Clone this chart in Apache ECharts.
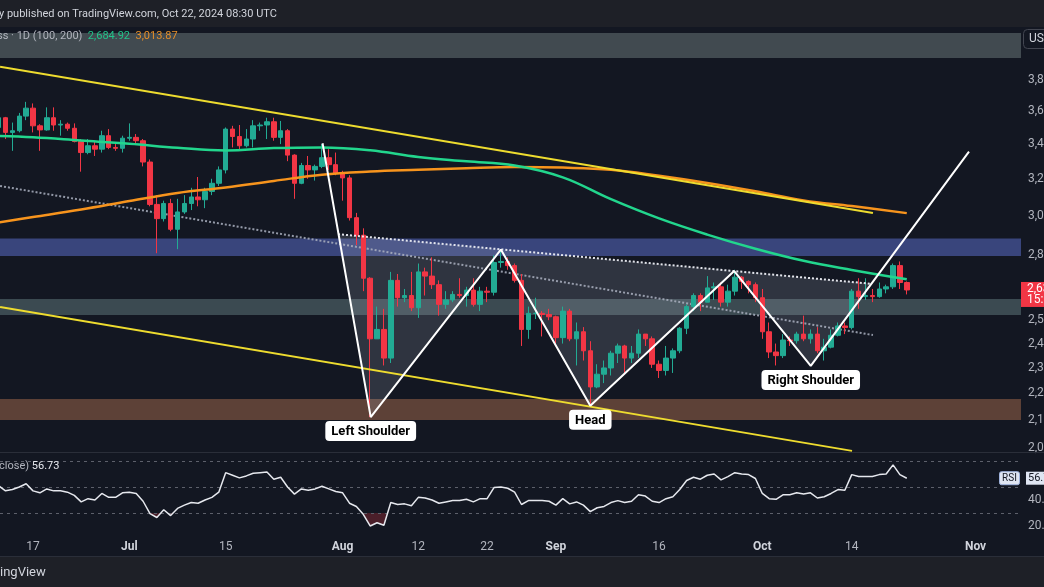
<!DOCTYPE html>
<html><head><meta charset="utf-8">
<script src="https://cdn.jsdelivr.net/npm/echarts@6/dist/echarts.min.js"></script>
<style>html,body{margin:0;padding:0;background:#131722;overflow:hidden}#c{width:1044px;height:587px}</style>
</head><body><div id="c"></div>
<script>
// ---------- data ----------
const startDate = '2024-06-12';
const opens = [3500,3560,3470,3480,3570,3620,3510,3485,3560,3515,3520,3495,3415,3350,3390,3370,3450,3380,3375,
 3435,3440,3420,3295,3060,2985,3065,2930,3020,3065,3100,3085,3130,3175,3250,3490,3445,3390,3430,3510,3515,3535,3440,3480,3335,3175,3275,3250,3270,3320,3280,
 3230,3205,2990,2900,2690,2420,2460,2340,2680,2600,2610,2555,2720,2700,2660,2570,2590,2615,2610,2635,2570,2630,2625,2765,2770,2750,2680,2460,2530,2530,2525,
 2515,2425,2540,2420,2450,2370,2225,2275,2300,2360,2390,2340,2360,2440,2420,2315,2290,2340,2370,2465,2560,2610,2580,2645,2650,2580,2630,2695,2675,2660,
 2600,2450,2365,2350,2415,2412,2440,2420,2440,2370,2385,2435,2475,2468,2630,2605,2610,2605,2640,2650,2750,2670];
const highs = [3650,3565,3530,3590,3660,3650,3520,3625,3625,3545,3530,3525,3430,3430,3420,3480,3490,3400,3450,
 3525,3460,3430,3310,3110,3080,3090,3090,3110,3150,3210,3150,3200,3270,3500,3510,3515,3490,3545,3530,3560,3560,3540,3490,3340,3290,3330,3280,3400,3370,3350,
 3245,3220,3015,2935,2695,2560,2550,2720,2710,2640,2720,2760,2740,2790,2680,2630,2630,2690,2650,2690,2650,2650,2800,2820,2790,2760,2710,2560,2600,2540,2550,
 2520,2560,2550,2490,2470,2410,2315,2330,2370,2400,2395,2390,2460,2440,2430,2330,2390,2380,2470,2570,2620,2620,2700,2670,2670,2660,2730,2700,2680,2670,
 2640,2490,2400,2440,2430,2450,2520,2460,2470,2420,2460,2490,2490,2640,2690,2690,2640,2670,2660,2760,2770,2675];
const lows = [3440,3430,3360,3470,3545,3470,3360,3480,3480,3450,3480,3410,3240,3340,3330,3350,3370,3360,3350,
 3420,3400,3270,3050,2810,2970,2920,2830,3010,3030,3050,3040,3110,3160,3230,3380,3370,3380,3380,3480,3430,3420,3400,3300,3090,3170,3200,3190,3260,3250,3220,
 3080,2975,2850,2630,2111,2420,2310,2320,2560,2580,2540,2510,2610,2640,2520,2550,2580,2600,2560,2560,2540,2580,2610,2740,2730,2670,2390,2420,2505,2430,2500,
 2400,2400,2410,2310,2330,2150,2220,2240,2270,2320,2280,2320,2340,2390,2300,2260,2270,2280,2360,2440,2540,2540,2580,2590,2560,2560,2610,2640,2620,2580,
 2420,2340,2310,2340,2390,2400,2410,2400,2360,2330,2380,2430,2440,2460,2550,2590,2580,2600,2620,2640,2640,2615];
const closes = [3560,3470,3480,3570,3620,3510,3485,3560,3515,3520,3495,3415,3350,3390,3370,3450,3380,3375,3435,
 3440,3420,3295,3060,2985,3065,2930,3020,3065,3100,3085,3130,3175,3250,3490,3445,3390,3430,3510,3515,3535,3440,3480,3335,3175,3275,3250,3270,3320,3280,3230,
 3205,2990,2900,2690,2420,2460,2340,2680,2600,2610,2555,2720,2700,2660,2570,2590,2615,2610,2635,2570,2630,2625,2765,2770,2750,2680,2460,2530,2530,2525,2515,
 2425,2540,2420,2450,2370,2225,2275,2300,2360,2390,2340,2360,2440,2420,2315,2290,2340,2370,2465,2560,2610,2580,2645,2650,2580,2630,2695,2675,2660,2600,
 2450,2365,2350,2415,2412,2440,2420,2440,2370,2385,2435,2475,2468,2630,2605,2610,2605,2640,2650,2750,2670,2635.45];
const rsi = [51,47,48,50,52.5,47,45.5,48.5,47,47,46,43.5,38.5,41,40,45,42,42,45.5,
 46,45,39,29.5,26.5,32.5,28,33.5,36,38,37.5,40,42,46,61,59,57,58.5,60.5,61,61.5,56,57.5,50,44.5,48.5,47.5,48.5,50.5,48.5,46.5,
 45.5,37.5,35,29,20,22.5,20.5,38,36.5,37,35.5,42,41.5,40,37.5,38.5,39.5,39.5,40.5,38.5,41,41,49.5,50,49,46,36.5,39.5,39.5,39.5,39,
 36,41,37,38.5,36,31,34,35,38,39.5,38,39,44,43,39,38,41,42.5,48,55,57.5,56,59,60,55.5,58,61,60,59.5,56.5,
 45,41,40.5,44,44,45.5,44.5,45.5,41.5,42.5,45,48,47.5,59.5,58,58,58,59.5,60,67,59.5,56.73];
const maDates = ['2024-06-12','2024-06-17','2024-06-24','2024-07-01','2024-07-08','2024-07-15','2024-07-22','2024-07-29','2024-08-05','2024-08-12',
 '2024-08-19','2024-08-26','2024-09-02','2024-09-09','2024-09-16','2024-09-23','2024-09-30','2024-10-07','2024-10-14','2024-10-22'];
const ma100 = [3448,3440,3421,3402,3378,3362,3376,3380,3363,3324,3299,3275,3208,3088,2986,2903,2832,2773,2729,2684.92];
const ma200 = [2965,2993,3033,3078,3122,3152,3188,3223,3241,3251,3260,3266,3263,3251,3217,3177,3131,3081,3051,3013.87];
const priceTicks = [3800,3600,3400,3200,3000,2800,2500,2400,2300,2200,2100,2000];
const rsiTicks = [20,40];
const rsiLevels = [70,50,30];
const rsiOversold = 30;
const dateTicks = ['2024-06-17','2024-07-01','2024-07-15','2024-08-01','2024-08-12','2024-08-22','2024-09-01','2024-09-16','2024-10-01','2024-10-14','2024-11-01'];
const zones = [[3951,4127],[2797,2883],[2523,2594],[2100,2179]];
const upperChannel = [['2024-06-12T05:00Z',3892],['2024-10-17T02:00Z',3014]];
const lowerChannel = [['2024-06-12T05:00Z',2558],['2024-10-14T01:00Z',1990]];
const lowerDotted = [['2024-06-12T05:00Z',3160],['2024-10-17T02:00Z',2436]];
const neckline = [['2024-07-31T08:00Z',2905],['2024-10-16T20:00Z',2664]];
const hsPoints = [['2024-07-29T02:00Z',3405],['2024-08-05T02:00Z',2111],['2024-08-24T00:00Z',2828],['2024-09-06T00:00Z',2153],
 ['2024-09-26T22:00Z',2724],['2024-10-08T01:00Z',2308],['2024-10-31T01:00Z',3355]];
const hsLabels = [['Left Shoulder',1],['Head',3],['Right Shoulder',5]];

// ---------- helpers ----------
const DAY = 864e5;
const T = s => Date.parse(s.length === 10 ? s + 'T00:00:00Z' : s);
const t0 = T(startDate);
const times = closes.map((_, i) => t0 + i * DAY);
const X_MIN = Date.UTC(2024, 5, 17) - 4.8 * DAY;
const X_MAX = X_MIN + (1021 / 6.88) * DAY;
const fmt2 = v => Number(v).toLocaleString('en-US', {minimumFractionDigits: 2, maximumFractionDigits: 2});
const months = ['Jan','Feb','Mar','Apr','May','Jun','Jul','Aug','Sep','Oct','Nov','Dec'];
const pts = arr => arr.map(p => [T(p[0]), p[1]]);
const zoneColors = ['#414a50', '#39457c', '#3b4a51', '#5d4137'];
const triangles = [[neckline[0], hsPoints[1], hsPoints[2]], [hsPoints[2], hsPoints[3], hsPoints[4]], [hsPoints[4], hsPoints[5], neckline[1]]];
const last = closes.length - 1;
const UP = '#22ab94', DOWN = '#f23645';
const F11 = '11px Roboto, sans-serif';
const F12 = '12px Roboto, sans-serif';

const chart = echarts.init(document.getElementById('c'), null, {renderer: 'canvas'});
const lineBase = {type: 'line', xAxisIndex: 0, yAxisIndex: 0, showSymbol: false, symbol: 'none', silent: true};

chart.setOption({
  animation: false,
  backgroundColor: '#131722',
  textStyle: {fontFamily: 'Roboto, "Noto Sans", sans-serif'},
  grid: [
    {left: 0, right: 23, top: 28, height: 424, outerBoundsMode: 'none', containLabel: false},
    {left: 0, right: 23, top: 452, height: 85, outerBoundsMode: 'none', containLabel: false}
  ],
  xAxis: [
    {type: 'value', gridIndex: 0, min: X_MIN, max: X_MAX, show: false},
    {type: 'value', gridIndex: 1, min: X_MIN, max: X_MAX,
      axisLine: {show: false}, axisTick: {show: false}, splitLine: {show: false},
      axisLabel: {customValues: dateTicks.map(T), margin: 4, fontSize: 12, color: '#b2b5be',
        formatter: v => { const d = new Date(v); return d.getUTCDate() === 1 ? '{m|' + months[d.getUTCMonth()] + '}' : '{d|' + d.getUTCDate() + '}'; },
        rich: {m: {fontSize: 12, fontWeight: 'bold', color: '#d1d4dc'}, d: {fontSize: 12, color: '#b2b5be'}}}
    }
  ],
  yAxis: [
    {type: 'log', logBase: 10, gridIndex: 0, position: 'right', min: 1986.1, max: 4163.7,
      axisLine: {show: false}, axisTick: {show: false}, splitLine: {show: false},
      axisLabel: {customValues: priceTicks, margin: 7, fontSize: 12, color: '#b2b5be', formatter: v => fmt2(v)}},
    {type: 'value', gridIndex: 1, position: 'right', min: 11.5, max: 76.9,
      axisLine: {show: false}, axisTick: {show: false}, splitLine: {show: false},
      axisLabel: {customValues: rsiTicks, margin: 7, fontSize: 12, color: '#b2b5be', formatter: v => fmt2(v)}}
  ],
  series: [
    {type: 'custom', xAxisIndex: 0, yAxisIndex: 0, z: 1, silent: true,
      data: zones.map(z => [X_MIN, z[0]]),
      renderItem: (params, api) => {
        const z = zones[params.dataIndex];
        const a = api.coord([X_MIN, z[1]]), b = api.coord([X_MAX, z[0]]);
        return {type: 'rect', shape: {x: a[0], y: a[1], width: b[0] - a[0], height: b[1] - a[1]}, style: {fill: zoneColors[params.dataIndex]}};
      }},
    {type: 'custom', xAxisIndex: 0, yAxisIndex: 0, z: 2, silent: true,
      data: triangles.map(tr => [T(tr[0][0]), tr[0][1]]),
      renderItem: (params, api) => ({type: 'polygon',
        shape: {points: triangles[params.dataIndex].map(p => api.coord([T(p[0]), p[1]]))},
        style: {fill: 'rgba(190,196,212,0.17)'}})},
    Object.assign({}, lineBase, {z: 3, data: pts(lowerDotted), lineStyle: {color: 'rgba(170,176,192,0.85)', width: 2, type: 'dotted'}}),
    {type: 'candlestick', xAxisIndex: 0, yAxisIndex: 0, z: 4, barWidth: 5, silent: true,
      encode: {x: 0, y: [1, 2, 3, 4]},
      data: times.map((t, i) => [t, opens[i], closes[i], lows[i], highs[i]]),
      itemStyle: {color: UP, color0: DOWN, borderColor: UP, borderColor0: DOWN, borderWidth: 1}},
    Object.assign({}, lineBase, {z: 5, smooth: 0.4, data: maDates.map((d, i) => [T(d), ma200[i]]), lineStyle: {color: '#f7941d', width: 2.5}}),
    Object.assign({}, lineBase, {z: 5, smooth: 0.4, data: maDates.map((d, i) => [T(d), ma100[i]]), lineStyle: {color: '#22d68d', width: 2.5}}),
    Object.assign({}, lineBase, {z: 5, data: pts(upperChannel), lineStyle: {color: '#eedc2f', width: 2}}),
    Object.assign({}, lineBase, {z: 5, data: pts(lowerChannel), lineStyle: {color: '#eedc2f', width: 2}}),
    Object.assign({}, lineBase, {z: 6, data: pts(neckline), lineStyle: {color: 'rgba(236,238,244,0.95)', width: 2, type: 'dotted'}}),
    Object.assign({}, lineBase, {z: 7, data: pts(hsPoints), lineStyle: {color: '#ffffff', width: 2}}),
    {type: 'scatter', xAxisIndex: 0, yAxisIndex: 0, z: 8, silent: true, symbolSize: 0, itemStyle: {color: '#ffffff', opacity: 1},
      data: hsLabels.map(([name, k]) => ({name, value: [T(hsPoints[k][0]), hsPoints[k][1]]})),
      label: {show: true, position: 'bottom', distance: 4, formatter: '{b}', color: '#000000', opacity: 1, fontSize: 13, fontWeight: 'bold',
        backgroundColor: '#ffffff', borderRadius: 4, padding: [4, 6, 3, 6]}},
    {type: 'line', xAxisIndex: 1, yAxisIndex: 1, z: 5, showSymbol: false, symbol: 'none', silent: true,
      data: times.map((t, i) => [t, rsi[i]]), lineStyle: {color: '#e6e8ee', width: 1.5},
      markLine: {silent: true, symbol: 'none', animation: false, label: {show: false},
        data: rsiLevels.map(v => ({yAxis: v, lineStyle: {color: '#5d606b', width: 1, type: [3, 4]}}))}},
    // oversold fill: area between RSI line and the 30 level, clipped to the part below 30
    {type: 'custom', xAxisIndex: 1, yAxisIndex: 1, z: 4, silent: true,
      data: [[times[0], rsiOversold]],
      renderItem: (params, api) => {
        const line = times.map((t, i) => api.coord([t, rsi[i]]));
        const y30 = api.coord([times[0], rsiOversold])[1];
        const poly = [[line[0][0], y30]].concat(line, [[line[line.length - 1][0], y30]]);
        const cs = params.coordSys;
        return {type: 'polygon', shape: {points: poly}, style: {fill: 'rgba(242,54,69,0.25)'},
          clipPath: {type: 'rect', shape: {x: cs.x, y: y30, width: cs.width, height: cs.y + cs.height - y30}}};
      }},
    // last price label on the price scale
    {type: 'custom', xAxisIndex: 0, yAxisIndex: 0, z: 20, silent: true, clip: false,
      data: [[times[last], closes[last]]],
      renderItem: (params, api) => {
        const p = api.coord([times[last], closes[last]]);
        const cs = params.coordSys, r = cs.x + cs.width;
        return {type: 'group', children: [
          {type: 'rect', shape: {x: r, y: p[1] - 8, width: 30, height: 25}, style: {fill: DOWN}},
          {type: 'text', x: r + 6, y: p[1] - 1, style: {text: fmt2(closes[last]), fill: '#ffffff', font: F12, verticalAlign: 'middle'}},
          {type: 'text', x: r + 6, y: p[1] + 10, style: {text: '15:29:42', fill: '#ffffff', font: F12, verticalAlign: 'middle'}}
        ]};
      }},
    // last RSI label on the RSI scale
    {type: 'custom', xAxisIndex: 1, yAxisIndex: 1, z: 20, silent: true, clip: false,
      data: [[times[last], rsi[last]]],
      renderItem: (params, api) => {
        const p = api.coord([times[last], rsi[last]]);
        const cs = params.coordSys, r = cs.x + cs.width;
        return {type: 'group', children: [
          {type: 'rect', shape: {x: r - 21.5, y: p[1] - 6.5, width: 20, height: 13, r: 2}, style: {fill: '#dfe5f2', stroke: '#9fb3dd', lineWidth: 1}},
          {type: 'text', x: r - 11.5, y: p[1], style: {text: 'RSI', fill: '#131722', font: '10px Roboto, sans-serif', align: 'center', verticalAlign: 'middle'}},
          {type: 'rect', shape: {x: r + 5, y: p[1] - 6.5, width: 30, height: 13}, style: {fill: '#dfe5f2'}},
          {type: 'text', x: r + 7, y: p[1], style: {text: fmt2(rsi[last]), fill: '#131722', font: F11, verticalAlign: 'middle'}}
        ]};
      }}
  ],
  graphic: [
    {type: 'rect', z: 100, shape: {x: 0, y: 0, width: 1044, height: 27}, style: {fill: '#1e2027'}},
    {type: 'text', z: 101, x: -1, y: 14, style: {text: 'y published on TradingView.com, Oct 22, 2024 08:30 UTC', fill: '#d1d4dc', font: F11, verticalAlign: 'middle'}},
    {type: 'text', z: 101, x: -3, y: 36, style: {text: '{g|ss · 1D (100, 200)}  {a|' + fmt2(ma100[ma100.length - 1]) + '}  {b|' + fmt2(ma200[ma200.length - 1]) + '}',
      verticalAlign: 'middle', font: F11,
      rich: {g: {fill: '#b2b5be', font: F11}, a: {fill: '#22c48a', font: F11}, b: {fill: '#e58f2a', font: F11}}}},
    {type: 'rect', z: 101, shape: {x: 1023.5, y: 29.5, width: 30, height: 19, r: 4}, style: {fill: '#131722', stroke: '#434651', lineWidth: 1}},
    {type: 'text', z: 102, x: 1029, y: 39, style: {text: 'USD', fill: '#d1d4dc', font: F12, verticalAlign: 'middle'}},
    {type: 'text', z: 101, x: -1, y: 466, style: {text: '{g|close)} {w|' + fmt2(rsi[last]) + '}', verticalAlign: 'middle', font: F11,
      rich: {g: {fill: '#b2b5be', font: F11}, w: {fill: '#e6e8ee', font: F11}}}},
    {type: 'line', z: 100, shape: {x1: 0, y1: 452.5, x2: 1044, y2: 452.5}, style: {stroke: '#2a2e39', lineWidth: 1}},
    {type: 'rect', z: 100, shape: {x: 0, y: 556, width: 1044, height: 31}, style: {fill: '#1e2027'}},
    {type: 'line', z: 100, shape: {x1: 0, y1: 556.5, x2: 1044, y2: 556.5}, style: {stroke: '#2a2e39', lineWidth: 1}},
    {type: 'text', z: 101, x: 0, y: 573, style: {text: 'ingView', fill: '#d1d4dc', font: '13px Roboto, sans-serif', verticalAlign: 'middle'}}
  ]
});
</script></body></html>
